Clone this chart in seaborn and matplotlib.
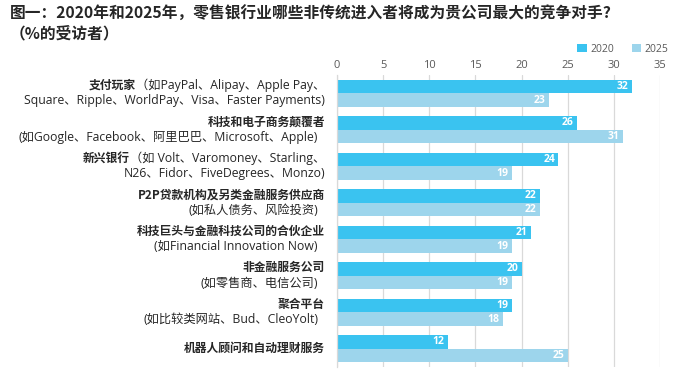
import matplotlib
matplotlib.use("Agg")
import matplotlib.pyplot as plt
import matplotlib.transforms as mtransforms
from matplotlib.patches import Patch
import seaborn as sns
import pandas as pd

# ---- data ----
bold_parts = [
    "支付玩家",
    "科技和电子商务颠覆者",
    "新兴银行",
    "P2P贷款机构及另类金融服务供应商",
    "科技巨头与金融科技公司的合伙企业",
    "非金融服务公司",
    "聚合平台",
    "机器人顾问和自动理财服务",
]
line1_rest = [
    "（如PayPal、Alipay、Apple Pay、",
    "",
    "（如 Volt、Varomoney、Starling、",
    "",
    "",
    "",
    "",
    "",
]
line2 = [
    "Square、Ripple、WorldPay、Visa、Faster Payments)",
    "(如Google、Facebook、阿里巴巴、Microsoft、Apple)",
    "N26、Fidor、FiveDegrees、Monzo)",
    "(如私人债务、风险投资)",
    "(如Financial Innovation Now)",
    "(如零售商、电信公司)",
    "(如比较类网站、Bud、CleoYolt)",
    "",
]
values_2020 = [32, 26, 24, 22, 21, 20, 19, 12]
values_2025 = [23, 31, 19, 22, 19, 19, 18, 25]
years = ["2020", "2025"]
x_ticks = [0, 5, 10, 15, 20, 25, 30, 35]
title = "图一：2020年和2025年，零售银行业哪些非传统进入者将成为贵公司最大的竞争对手?\n（%的受访者）"

colors = {"2020": "#3AC3F0", "2025": "#9DD5EC"}

sns.set_theme(style="white")
plt.rcParams["font.family"] = ["Noto Sans CJK SC", "DejaVu Sans"]
LATIN = ["Open Sans", "Noto Sans CJK SC", "DejaVu Sans"]

cats = [f"c{i}" for i in range(len(bold_parts))]
df = pd.DataFrame({
    "cat": cats * 2,
    "year": [years[0]] * len(cats) + [years[1]] * len(cats),
    "value": values_2020 + values_2025,
})

W, H = 700, 374
fig = plt.figure(figsize=(W / 100, H / 100), dpi=100)
ax = fig.add_axes([337 / W, 1 - 367 / H, (660 - 337) / W, (367 - 75) / H])

sns.barplot(data=df, y="cat", x="value", hue="year", orient="h",
            palette=colors, width=0.74, ax=ax, saturation=1, legend=False,
            edgecolor="none")

ax.set_xlim(0, 35)
ax.set_ylim(len(cats) - 0.5, -0.5)
ax.set_xticks(x_ticks)
ax.set_xticklabels([str(v) for v in x_ticks], family=LATIN)
ax.xaxis.tick_top()
ax.tick_params(axis="x", length=0, pad=3, labelsize=8, colors="#595959")
ax.set_yticks([])
ax.set_xlabel("")
ax.set_ylabel("")
ax.grid(axis="x", color="#D9D9D9", linewidth=0.9)
ax.set_axisbelow(True)
for s in ["top", "right", "bottom"]:
    ax.spines[s].set_visible(False)
ax.spines["left"].set_color("#D9D9D9")
ax.spines["left"].set_linewidth(0.9)

# value labels
for cont in ax.containers:
    anns = ax.bar_label(cont, padding=-2.5, color="white", fontsize=7.5,
                        fontweight="bold", family=LATIN)
    for a in anns:
        a.set_ha("right")

# category labels
tr = mtransforms.blended_transform_factory(fig.transFigure, ax.transData)
xr = 325 / W
xr_paren = 318 / W
fs_b = 8.5
fs_n = 8.8
for i in range(len(cats)):
    if line2[i]:
        y1, y2 = i - 0.22, i + 0.21
    else:
        y1, y2 = i, None
    if line1_rest[i]:
        t = ax.text(xr, y1, line1_rest[i], transform=tr, ha="right", va="center",
                    fontsize=fs_n, color="#262626", family=LATIN)
        ax.annotate(bold_parts[i], xy=(0, 0.5), xycoords=t, ha="right", va="center",
                    fontsize=fs_b, fontweight="bold", color="#262626")
    else:
        ax.text(xr, y1, bold_parts[i], transform=tr, ha="right", va="center",
                fontsize=fs_b, fontweight="bold", color="#262626")
    if y2 is not None:
        x2 = xr_paren if line2[i].startswith("(") else xr
        ax.text(x2, y2, line2[i], transform=tr, ha="right", va="center",
                fontsize=fs_n, color="#262626", family=LATIN)

# legend
handles = [Patch(facecolor=colors[y], edgecolor="none") for y in years]
fig.legend(handles, years, ncol=2, loc="center", bbox_to_anchor=(623 / W, 1 - 49 / H),
           frameon=False, prop={"family": LATIN, "size": 7.5},
           handlelength=0.9, handleheight=0.9,
           handletextpad=0.35, columnspacing=1.7, labelcolor="#595959")

fig.text(10 / W, 1 - 6 / H, title, ha="left", va="top", fontsize=11.3,
         fontweight="bold", color="#262626", linespacing=1.3)

fig.savefig("out.png", dpi=100)
